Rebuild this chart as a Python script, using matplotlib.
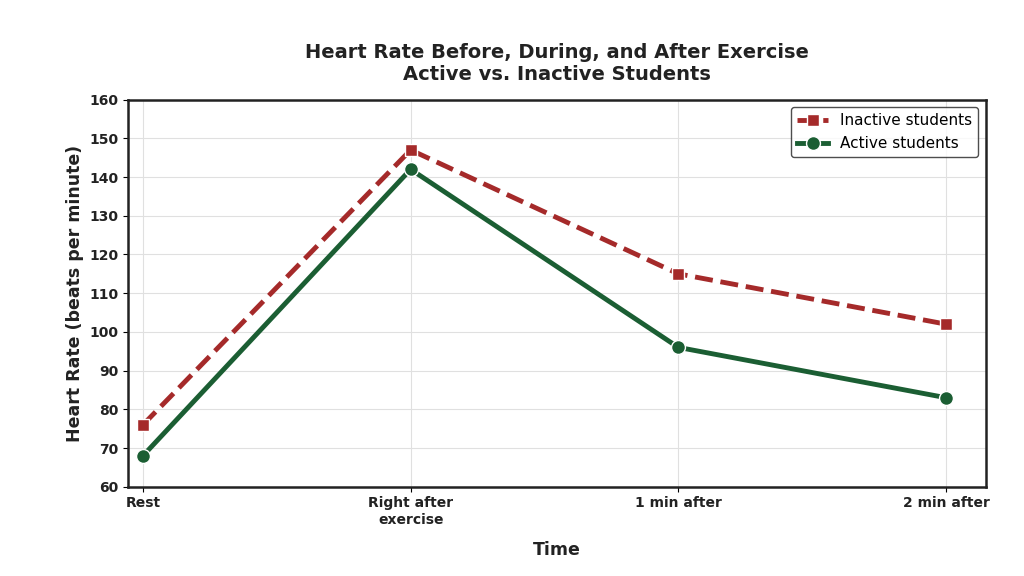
import matplotlib.pyplot as plt

times = ["Rest", "Right after\nexercise", "1 min after", "2 min after"]
inactive = [76, 147, 115, 102]
active = [68, 142, 96, 83]

fig = plt.figure(figsize=(10.24, 5.76), dpi=100)
ax = fig.add_axes([0.125, 0.155, 0.838, 0.672])

x = range(len(times))
ax.plot(x, inactive, color="#a52a2a", linestyle="--", linewidth=3.5, marker="s",
        markersize=9, markeredgecolor="white", markeredgewidth=1, label="Inactive students")
ax.plot(x, active, color="#1b5e33", linestyle="-", linewidth=3.5, marker="o",
        markersize=10, markeredgecolor="white", markeredgewidth=1, label="Active students")

ax.set_ylim(60, 160)
ax.set_xlim(-0.056, 3.15)
ax.set_xticks(list(x))
ax.set_xticklabels(times, fontweight="bold", fontsize=10, color="#222222")
ax.set_yticks(range(60, 161, 10))
for lab in ax.get_yticklabels():
    lab.set_fontweight("bold")
    lab.set_fontsize(10)
    lab.set_color("#222222")
ax.grid(True, color="#e0e0e0", linewidth=0.8)
for s in ax.spines.values():
    s.set_linewidth(1.8)
    s.set_color("#222222")

ax.set_xlabel("Time", fontweight="bold", fontsize=12.5, labelpad=10, color="#222222")
ax.set_ylabel("Heart Rate (beats per minute)", fontweight="bold", fontsize=12.5, color="#222222")
ax.set_title("Heart Rate Before, During, and After Exercise\nActive vs. Inactive Students",
             fontweight="bold", fontsize=14, color="#222222", pad=14)
leg = ax.legend(loc="upper right", fontsize=11, frameon=True, fancybox=True, edgecolor="#222222")
leg.get_frame().set_linewidth(1.0)

fig.savefig("out.png", dpi=100)
